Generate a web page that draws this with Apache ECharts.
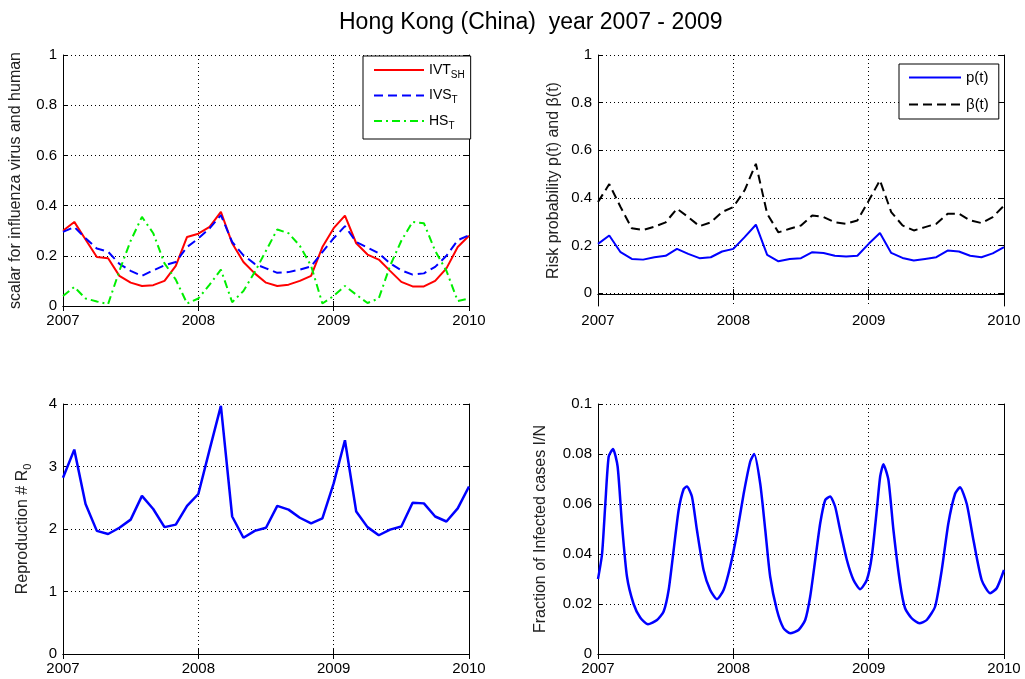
<!DOCTYPE html>
<html>
<head>
<meta charset="utf-8">
<script src="https://cdn.jsdelivr.net/npm/echarts@6/dist/echarts.min.js"></script>
<style>
html, body { margin: 0; padding: 0; background: #fff; }
#chart { width: 1025px; height: 679px; }
</style>
</head>
<body>
<div id="chart"></div>
<script>
// monthly samples, Jan 2007 .. Jan 2010
var yearTicks = [2007, 2008, 2009, 2010];
var ivtSH = [0.30, 0.335, 0.265, 0.195, 0.19, 0.12, 0.093, 0.08, 0.083, 0.1, 0.16, 0.275, 0.288, 0.315, 0.375, 0.25, 0.175, 0.13, 0.093, 0.08, 0.085, 0.1, 0.12, 0.235, 0.31, 0.36, 0.25, 0.205, 0.185, 0.14, 0.096, 0.078, 0.078, 0.1, 0.15, 0.235, 0.28];
var ivsT = [0.295, 0.315, 0.27, 0.229, 0.216, 0.168, 0.14, 0.12, 0.142, 0.162, 0.175, 0.235, 0.269, 0.309, 0.362, 0.255, 0.202, 0.168, 0.15, 0.132, 0.135, 0.145, 0.158, 0.215, 0.27, 0.318, 0.255, 0.233, 0.21, 0.17, 0.142, 0.125, 0.13, 0.156, 0.2, 0.262, 0.282];
var hsT = [0.04, 0.076, 0.03, 0.018, 0.008, 0.14, 0.26, 0.355, 0.29, 0.17, 0.105, 0.01, 0.03, 0.085, 0.145, 0.015, 0.06, 0.135, 0.22, 0.305, 0.29, 0.24, 0.16, 0.01, 0.04, 0.08, 0.045, 0.012, 0.03, 0.16, 0.26, 0.335, 0.33, 0.22, 0.14, 0.02, 0.03];
var pT = [0.21, 0.245, 0.175, 0.147, 0.144, 0.154, 0.16, 0.189, 0.168, 0.15, 0.154, 0.178, 0.189, 0.238, 0.29, 0.164, 0.137, 0.147, 0.15, 0.175, 0.172, 0.16, 0.157, 0.16, 0.21, 0.255, 0.172, 0.151, 0.14, 0.147, 0.154, 0.182, 0.178, 0.16, 0.154, 0.17, 0.196];
var betaT = [0.385, 0.46, 0.364, 0.275, 0.268, 0.282, 0.3, 0.357, 0.322, 0.284, 0.3, 0.343, 0.364, 0.434, 0.545, 0.336, 0.258, 0.273, 0.287, 0.329, 0.322, 0.3, 0.294, 0.308, 0.39, 0.476, 0.343, 0.287, 0.266, 0.28, 0.294, 0.336, 0.336, 0.308, 0.297, 0.322, 0.37];
var r0 = [2.82, 3.27, 2.4, 1.97, 1.92, 2.02, 2.15, 2.53, 2.32, 2.03, 2.07, 2.37, 2.56, 3.27, 3.97, 2.2, 1.86, 1.97, 2.02, 2.37, 2.31, 2.18, 2.09, 2.17, 2.73, 3.42, 2.28, 2.03, 1.9, 1.99, 2.04, 2.42, 2.41, 2.2, 2.12, 2.33, 2.68];
// I/N
var infTime = [2007.000, 2007.030, 2007.054, 2007.079, 2007.111, 2007.145, 2007.177, 2007.214, 2007.263, 2007.313, 2007.369, 2007.436, 2007.485, 2007.522, 2007.559, 2007.596, 2007.633, 2007.657, 2007.694, 2007.731, 2007.780, 2007.829, 2007.879, 2007.928, 2007.977, 2008.026, 2008.076, 2008.125, 2008.154, 2008.199, 2008.236, 2008.272, 2008.322, 2008.371, 2008.420, 2008.482, 2008.531, 2008.568, 2008.605, 2008.642, 2008.679, 2008.715, 2008.752, 2008.789, 2008.839, 2008.888, 2008.937, 2008.986, 2009.023, 2009.060, 2009.085, 2009.109, 2009.146, 2009.183, 2009.232, 2009.269, 2009.318, 2009.375, 2009.429, 2009.491, 2009.540, 2009.589, 2009.638, 2009.675, 2009.725, 2009.774, 2009.835, 2009.897, 2009.946, 2010.000];
var infFrac = [0.030, 0.040, 0.060, 0.079, 0.082, 0.075, 0.052, 0.031, 0.020, 0.0145, 0.0119, 0.0136, 0.017, 0.0256, 0.0416, 0.0576, 0.066, 0.067, 0.063, 0.0496, 0.0336, 0.0256, 0.0219, 0.0256, 0.035, 0.048, 0.064, 0.077, 0.080, 0.068, 0.0496, 0.031, 0.0176, 0.0103, 0.0083, 0.0096, 0.0136, 0.023, 0.0376, 0.0523, 0.0616, 0.063, 0.059, 0.0496, 0.0376, 0.0296, 0.0259, 0.0296, 0.039, 0.0576, 0.071, 0.0759, 0.0696, 0.0496, 0.0283, 0.0183, 0.0143, 0.0123, 0.0136, 0.019, 0.0336, 0.0523, 0.064, 0.0667, 0.060, 0.0456, 0.0296, 0.0243, 0.0263, 0.0336];

var chart = echarts.init(document.getElementById('chart'));
var FONT = '"Liberation Sans", Arial, Helvetica, sans-serif';

function monthly(vals) {
    return vals.map(function (v, i) { return [yearTicks[0] + i / 12, v]; });
}
function pairs(xs, ys) {
    return xs.map(function (x, i) { return [x, ys[i]]; });
}

var dotted = { color: '#000', width: 1, type: [1, 3] };
var frame = { show: true, lineStyle: { color: '#000', width: 1 } };
var tickIn = { show: true, inside: true, length: 5, lineStyle: { color: '#000' } };
var subRich = {
    m: { fontSize: 16, fontFamily: FONT, color: '#222' },
    s: { fontSize: 11, fontFamily: FONT, color: '#222', padding: [10, 0, 0, 0] }
};

var grids = [
    { left: 63, top: 55, width: 406, height: 251 },
    { left: 598, top: 55, width: 406, height: 251 },
    { left: 63, top: 404, width: 406, height: 250 },
    { left: 598, top: 404, width: 406, height: 250 },
    { left: 598, top: 55, width: 406, height: 238 }   // ticks of the top right panel
];
var xAxes = [], yAxes = [];

function addX(g, show) {
    xAxes.push({
        gridIndex: g, type: 'value', position: 'bottom', show: show,
        min: yearTicks[0], max: yearTicks[yearTicks.length - 1], interval: 1,
        axisLine: frame, axisTick: tickIn,
        axisLabel: { color: '#000', fontSize: 15, fontFamily: FONT, margin: 7,
            formatter: function (v) { return String(v); } },
        splitLine: { show: true, lineStyle: dotted }
    });
    xAxes.push({
        gridIndex: g, type: 'value', position: 'top', show: show,
        min: yearTicks[0], max: yearTicks[yearTicks.length - 1], interval: 1,
        axisLine: frame, axisTick: tickIn, axisLabel: { show: false }, splitLine: { show: false }
    });
    return xAxes.length - 2;
}
function addY(g, o) {
    yAxes.push({
        gridIndex: g, type: 'value', position: 'left',
        min: o.min, max: o.max, interval: o.interval,
        name: o.name, nameLocation: 'middle', nameRotate: 90, nameGap: o.gap,
        nameTextStyle: { color: '#222', fontSize: 16, fontFamily: FONT, rich: subRich },
        axisLine: o.line === false ? { show: false } : frame,
        axisTick: o.ticks === false ? { show: false } : tickIn,
        axisLabel: o.labels === false ? { show: false } :
            { color: '#000', fontSize: 15, fontFamily: FONT, margin: 6 },
        splitLine: o.labels === false ? { show: false } : { show: true, lineStyle: dotted }
    });
    yAxes.push({
        gridIndex: g, type: 'value', position: 'right',
        min: o.min, max: o.max, interval: o.interval,
        axisLine: o.line === false ? { show: false } : frame,
        axisTick: o.ticks === false ? { show: false } : tickIn,
        axisLabel: { show: false }, splitLine: { show: false }
    });
    return yAxes.length - 2;
}

var x0 = addX(0, true), y0 = addY(0, { min: 0, max: 1, interval: 0.2, name: 'scalar for influenza virus and human', gap: 39 });
var x1 = addX(1, true), y1 = addY(1, { min: -0.05, max: 1, name: 'Risk probability p(t) and β(t)', gap: 36, labels: false, ticks: false });
var x2 = addX(2, true), y2 = addY(2, { min: 0, max: 4, interval: 1, name: '{m|Reproduction # R}{s|0}', gap: 30 });
var x3 = addX(3, true), y3 = addY(3, { min: 0, max: 0.1, interval: 0.02, name: 'Fraction of Infected cases I/N', gap: 49 });
var x4 = addX(4, false), y4 = addY(4, { min: 0, max: 1, interval: 0.2, line: false });

function line(name, xi, yi, data, color, width, dash, smooth) {
    return {
        name: name, type: 'line', xAxisIndex: xi, yAxisIndex: yi, data: data,
        symbol: 'none', animation: false, smooth: smooth || false,
        lineStyle: { color: color, width: width, type: dash || 'solid' },
        itemStyle: { color: color }
    };
}

var legendText = {
    'IVT_SH': '{m|IVT}{s|SH}',
    'IVS_T': '{m|IVS}{s|T}',
    'HS_T': '{m|HS}{s|T}'
};
// line only, no marker in the legend
var noMarker = { color: 'rgba(0,0,0,0)', borderWidth: 0, opacity: 0 };

chart.setOption({
    animation: false,
    title: {
        text: 'Hong Kong (China)  year 2007 - 2009', left: 334, top: 6,
        textStyle: { fontSize: 23, fontWeight: 'normal', color: '#000', fontFamily: FONT }
    },
    grid: grids,
    xAxis: xAxes,
    yAxis: yAxes,
    legend: [{
        data: ['IVT_SH', 'IVS_T', 'HS_T'], orient: 'vertical', left: 363, top: 56,
        backgroundColor: '#fff', borderColor: '#000', borderWidth: 1, borderRadius: 0,
        padding: [7, 6, 8, 10], itemWidth: 50, itemHeight: 14, itemGap: 8.5,
        itemStyle: noMarker,
        formatter: function (n) { return legendText[n]; },
        textStyle: { rich: {
            m: { fontSize: 14, fontFamily: FONT, color: '#000' },
            s: { fontSize: 10, fontFamily: FONT, color: '#000', padding: [10, 0, 0, 0] }
        } }
    }, {
        data: ['p(t)', 'β(t)'], orient: 'vertical', left: 899, top: 64,
        backgroundColor: '#fff', borderColor: '#000', borderWidth: 1, borderRadius: 0,
        padding: [6, 10, 7, 9], itemWidth: 52, itemHeight: 14, itemGap: 12,
        itemStyle: noMarker,
        textStyle: { fontSize: 15, fontFamily: FONT, color: '#000' }
    }],
    series: [
        line('IVT_SH', x0, y0, monthly(ivtSH), '#ff0000', 2),
        line('IVS_T', x0, y0, monthly(ivsT), '#0000ff', 2, [9, 5]),
        line('HS_T', x0, y0, monthly(hsT), '#00ee00', 2, [8, 4, 2, 4]),
        line('p(t)', x1, y1, monthly(pT), '#0000ff', 2),
        line('β(t)', x1, y1, monthly(betaT), '#000000', 2, [9, 5]),
        line('R0', x2, y2, monthly(r0), '#0000ff', 2.5),
        line('I/N', x3, y3, pairs(infTime, infFrac), '#0000ff', 2.5, null, 0.2)
    ]
});
</script>
</body>
</html>
